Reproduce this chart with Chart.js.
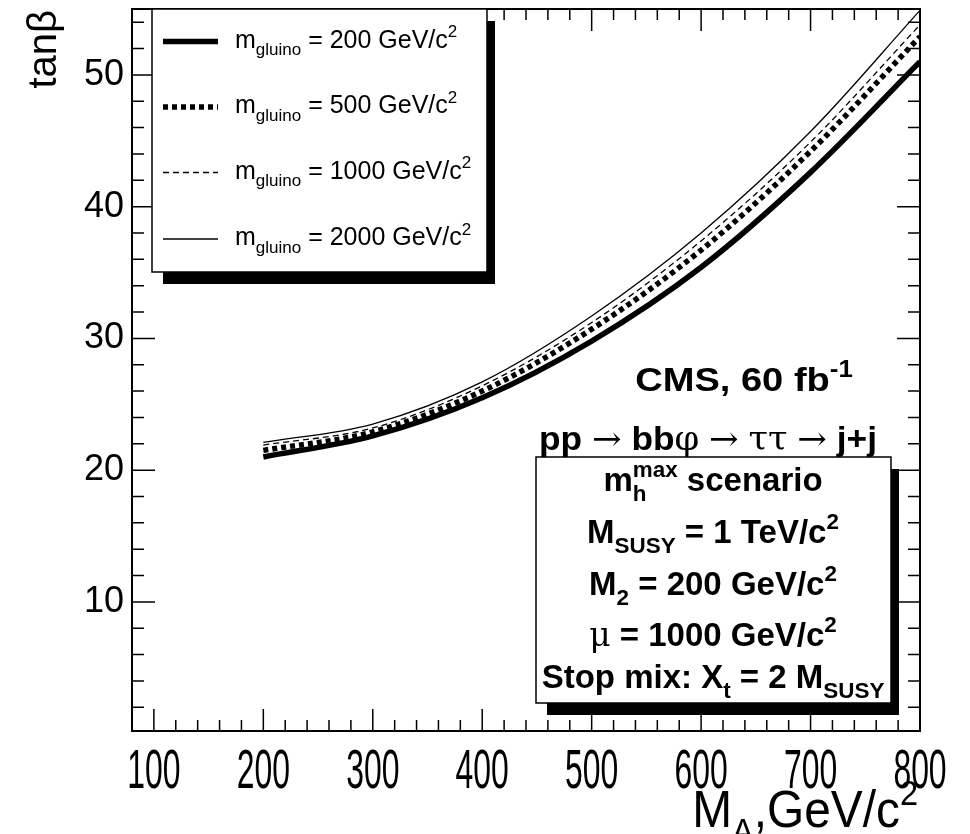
<!DOCTYPE html>
<html>
<head>
<meta charset="utf-8">
<title>tanβ reach vs M_A</title>
<script src="https://cdn.jsdelivr.net/npm/chart.js@4.4.0/dist/chart.umd.min.js"></script>
<style>
    html, body { margin: 0; padding: 0; background: #fff; }
    #chart-container { width: 970px; height: 834px; }
</style>
</head>
<body>
<div id="chart-container"><canvas id="tanb-chart" width="970" height="834"></canvas></div>
<script>
// values
const massA = [200, 300, 400, 500, 600, 700, 800];
const tanbGluino200 = [21.0, 22.6, 25.5, 29.8, 35.4, 42.6, 51.0];
const tanbGluino500 = [21.5, 22.9, 26.0, 30.7, 36.7, 44.2, 52.9];
const tanbGluino1000 = [21.9, 23.2, 26.4, 31.2, 37.4, 44.9, 53.8];
const tanbGluino2000 = [22.1, 23.5, 26.7, 31.7, 38.0, 45.7, 54.9];

const gluinoMasses = [200, 500, 1000, 2000];
const xTickValues = [100, 200, 300, 400, 500, 600, 700, 800];
const yTickValues = [10, 20, 30, 40, 50];

const app = {};

app.sans = '"Liberation Sans", Arial, Helvetica, sans-serif';
app.symbol = '"DejaVu Serif", "Liberation Serif", serif';
app.small = 0.68;

app.fontFor = (kind, size, weight) => {
    const s = (kind === 'sub' || kind === 'sup') ? size * app.small : size;
    if (kind === 'sym') {
        return `${s}px ${app.symbol}`;
    }
    return `${weight} ${s}px ${app.sans}`;
};

app.richWidth = (ctx, parts, size, weight) => {
    let w = 0;
    parts.forEach(([t, k]) => {
        if (k === 'subsup') {
            ctx.font = app.fontFor('sub', size, weight);
            w += Math.max(ctx.measureText(t[0]).width, ctx.measureText(t[1]).width);
        } else {
            ctx.font = app.fontFor(k, size, weight);
            w += ctx.measureText(t).width;
        }
    });
    return w;
};

// text with sub/superscripts, ROOT TLatex style
app.drawRich = (ctx, x, y, parts, opts) => {
    const size = opts.size;
    const weight = opts.weight || 'normal';
    const sx = opts.scaleX || 1;
    const align = opts.align || 'left';
    const w = app.richWidth(ctx, parts, size, weight) * sx;
    let start = x;
    if (align === 'center') {
        start = x - w / 2;
    } else if (align === 'right') {
        start = x - w;
    }
    ctx.save();
    ctx.translate(start, y);
    ctx.scale(sx, 1);
    ctx.fillStyle = '#000';
    ctx.textAlign = 'left';
    ctx.textBaseline = 'alphabetic';
    let cx = 0;
    parts.forEach(([t, k]) => {
        if (k === 'subsup') {
            ctx.font = app.fontFor('sub', size, weight);
            ctx.fillText(t[0], cx, size * 0.3);
            ctx.fillText(t[1], cx, -size * 0.42);
            cx += Math.max(ctx.measureText(t[0]).width, ctx.measureText(t[1]).width);
            return;
        }
        ctx.font = app.fontFor(k, size, weight);
        const dy = k === 'sub' ? size * 0.3 : k === 'sup' ? -size * 0.42 : 0;
        ctx.fillText(t, cx, dy);
        cx += ctx.measureText(t).width;
    });
    ctx.restore();
};

app.shadowBox = (ctx, x1, y1, x2, y2) => {
    ctx.fillStyle = '#000';
    ctx.fillRect(x1 + 11, y1 + 12, x2 - x1 - 3, y2 - y1);
    ctx.fillStyle = '#fff';
    ctx.fillRect(x1, y1, x2 - x1, y2 - y1);
    ctx.strokeStyle = '#000';
    ctx.lineWidth = 1.5;
    ctx.strokeRect(x1, y1, x2 - x1, y2 - y1);
};

app.boxLines = [
    { y: 491, parts: [['m', ''], [['h', 'max'], 'subsup'], [' scenario', '']] },
    { y: 543, parts: [['M', ''], ['SUSY', 'sub'], [' = 1 TeV/c', ''], ['2', 'sup']] },
    { y: 595, parts: [['M', ''], ['2', 'sub'], [' = 200 GeV/c', ''], ['2', 'sup']] },
    { y: 646, parts: [['μ', 'sym'], [' = 1000 GeV/c', ''], ['2', 'sup']] },
    { y: 688, parts: [['Stop mix: X', ''], ['t', 'sub'], [' = 2 M', ''], ['SUSY', 'sub']] }
];

app.rootPlugin = {
    id: 'rootFrame',
    afterDatasetsDraw(chart) {
        const ctx = chart.ctx;
        const a = chart.chartArea;
        const xs = chart.scales.x;
        const ys = chart.scales.y;
        ctx.save();

        // inward ticks on all four sides
        ctx.strokeStyle = '#000';
        ctx.lineWidth = 1.5;
        ctx.beginPath();
        for (let v = 80; v <= 800; v += 20) {
            const px = xs.getPixelForValue(v);
            const len = v % 100 === 0 ? 22 : 11;
            ctx.moveTo(px, a.bottom);
            ctx.lineTo(px, a.bottom - len);
            ctx.moveTo(px, a.top);
            ctx.lineTo(px, a.top + len);
        }
        for (let v = 2; v <= 54; v += 2) {
            const py = ys.getPixelForValue(v);
            const len = v % 10 === 0 ? 23 : 12;
            ctx.moveTo(a.left, py);
            ctx.lineTo(a.left + len, py);
            ctx.moveTo(a.right, py);
            ctx.lineTo(a.right - len, py);
        }
        ctx.stroke();
        ctx.lineWidth = 2;
        ctx.strokeRect(a.left, a.top, a.right - a.left, a.bottom - a.top);

        // x labels are condensed in the original
        xTickValues.forEach((v) => {
            app.drawRich(ctx, xs.getPixelForValue(v), 788, [[String(v), '']], { size: 55, scaleX: 0.58, align: 'center' });
        });
        app.drawRich(ctx, 918, 827, [['M', ''], ['A', 'sub'], [',GeV/c', ''], ['2', 'sup']], { size: 52, scaleX: 0.92, align: 'right' });

        ctx.save();
        ctx.translate(56, 10);
        ctx.rotate(-Math.PI / 2);
        ctx.font = `40px ${app.sans}`;
        ctx.fillStyle = '#000';
        ctx.textAlign = 'right';
        ctx.fillText('tanβ', 0, 0);
        ctx.restore();

        // legend
        app.shadowBox(ctx, 152, a.top, 487, 272);
        const rows = [41.5, 107, 172.5, 239];
        chart.data.datasets.forEach((ds, i) => {
            ctx.strokeStyle = '#000';
            ctx.lineWidth = ds.borderWidth;
            ctx.setLineDash(ds.borderDash || []);
            ctx.beginPath();
            ctx.moveTo(163, rows[i]);
            ctx.lineTo(218, rows[i]);
            ctx.stroke();
            ctx.setLineDash([]);
            app.drawRich(ctx, 235, rows[i] + 6, [['m', ''], ['gluino', 'sub'], [` = ${gluinoMasses[i]} GeV/c`, ''], ['2', 'sup']], { size: 25 });
        });

        // scenario text
        app.drawRich(ctx, 744, 391, [['CMS, 60 fb', ''], ['-1', 'sup']], { size: 34, weight: 'bold', align: 'center', scaleX: 1.12 });
        app.drawRich(ctx, 708, 450, [['pp ', ''], ['→', 'sym'], [' bb', ''], ['φ', 'sym'], [' ', ''], ['→', 'sym'], [' ', ''], ['ττ', 'sym'], [' ', ''], ['→', 'sym'], [' j+j', '']], { size: 33, weight: 'bold', align: 'center', scaleX: 1.07 });
        app.shadowBox(ctx, 536, 457, 891, 703);
        app.boxLines.forEach((line) => {
            app.drawRich(ctx, 713, line.y, line.parts, { size: 33, weight: 'bold', align: 'center' });
        });

        ctx.restore();
    }
};

app.makeDataset = (values, width, dash) => ({
    data: massA.map((m, i) => ({ x: m, y: values[i] })),
    borderColor: '#000',
    borderWidth: width,
    borderDash: dash,
    borderCapStyle: 'butt',
    pointRadius: 0,
    fill: false,
    cubicInterpolationMode: 'monotone'
});

app.init = () => {
    const config = {
        type: 'line',
        data: {
            datasets: [
                app.makeDataset(tanbGluino200, 5.5, []),
                app.makeDataset(tanbGluino500, 5.5, [5, 4]),
                app.makeDataset(tanbGluino1000, 1.3, [6, 4]),
                app.makeDataset(tanbGluino2000, 1.3, [])
            ]
        },
        options: {
            responsive: false,
            devicePixelRatio: 1,
            animation: false,
            layout: { padding: { top: 9, right: 50, left: 0, bottom: 0 } },
            plugins: { legend: { display: false }, tooltip: { enabled: false } },
            scales: {
                x: {
                    type: 'linear',
                    min: 80,
                    max: 800,
                    grid: { display: false, drawTicks: false },
                    border: { display: false },
                    ticks: { display: false },
                    afterFit: (scale) => {
                        scale.height = 103;
                        scale.paddingLeft = 0;
                        scale.paddingRight = 0;
                    }
                },
                y: {
                    type: 'linear',
                    min: 0.2,
                    max: 55,
                    grid: { display: false, drawTicks: false },
                    border: { display: false },
                    ticks: {
                        padding: 8,
                        color: '#000',
                        font: { family: app.sans, size: 36 }
                    },
                    afterBuildTicks: (scale) => { scale.ticks = yTickValues.map((v) => ({ value: v })); },
                    afterFit: (scale) => {
                        scale.width = 132;
                        scale.paddingTop = 0;
                        scale.paddingBottom = 0;
                    }
                }
            }
        },
        plugins: [app.rootPlugin]
    };

    app.chart = new Chart(document.getElementById('tanb-chart'), config);
};

app.init();
</script>
</body>
</html>
